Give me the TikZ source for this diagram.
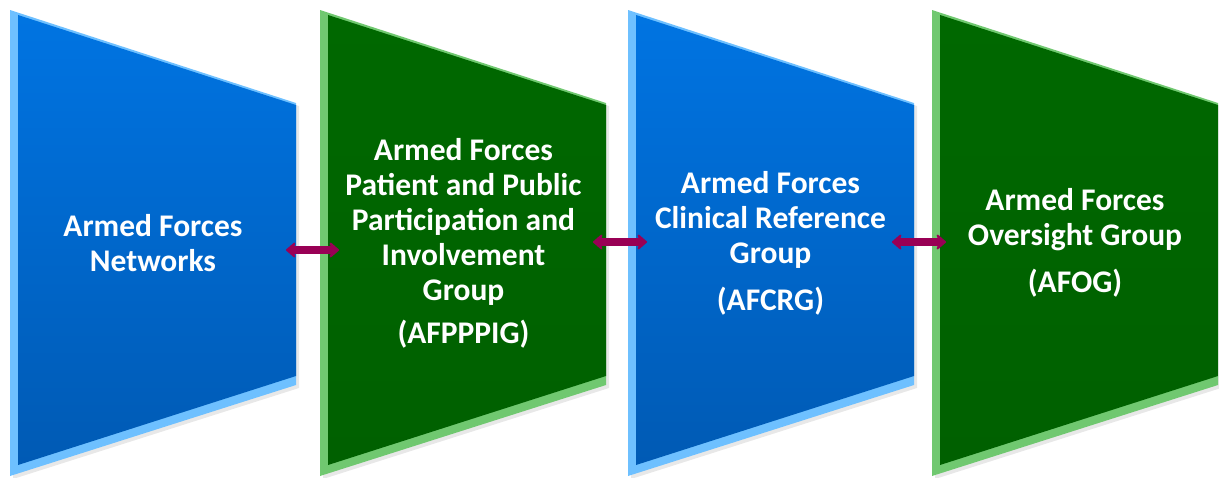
\documentclass[tikz,border=0pt]{standalone}
\usepackage{fontspec}
\setmainfont{Carlito}
\usetikzlibrary{arrows.meta}

\definecolor{blockblue}{RGB}{0,116,226}
\definecolor{blockbluedark}{RGB}{0,90,180}
\definecolor{bevelblue}{RGB}{110,192,255}
\definecolor{blockgreen}{RGB}{0,104,0}
\definecolor{blockgreendark}{RGB}{0,96,0}
\definecolor{bevelgreen}{RGB}{112,200,112}
\definecolor{linkred}{RGB}{153,0,85}

\tikzset{
  blocktext/.style={text=white, font=\bfseries\fontsize{31.5}{35}\selectfont, align=center},
  link/.style={linkred, line width=7.5pt,
    {Stealth[length=11pt,width=19pt,round]}-{Stealth[length=11pt,width=19pt,round]}},
}

\begin{document}
\begin{tikzpicture}[x=1pt,y=-1pt]

      \useasboundingbox (0,0) rectangle (1219,477);

      % the four blocks
      \foreach \lx/\base/\dark/\bevel in {10/blockblue/blockbluedark/bevelblue,
                                         320/blockgreen/blockgreendark/bevelgreen,
                                         628/blockblue/blockbluedark/bevelblue,
                                         932/blockgreen/blockgreendark/bevelgreen} {
        \begin{scope}[shift={(\lx,0)}]
          \fill[black!9] (3,13) -- (289,106) -- (289,388) -- (3,479) -- cycle;
          \fill[\bevel] (0,10) -- (286,103) -- (286,385) -- (0,476) -- cycle;
          \shade[top color=\base, bottom color=\dark]
            (8,15) -- (286,105) -- (286,376) -- (8,465) -- cycle;
        \end{scope}
      }

      \begin{scope}[every node/.style={blocktext}]
        \node (net) at (153,243)   {Armed Forces\\Networks};
        \node (ppi) at (463.5,243) {Armed Forces\\Patient and Public\\Participation and\\Involvement\\Group\\[8pt](AFPPPIG)};
        \node (crg) at (770.5,243) {Armed Forces\\Clinical Reference\\Group\\[12pt](AFCRG)};
        \node (aog) at (1075,243)  {Armed Forces\\Oversight Group\\[12pt](AFOG)};
      \end{scope}

      \coordinate (net-out) at (286,250);
      \coordinate (ppi-in)  at (339,250);
      \coordinate (ppi-out) at (593,242);
      \coordinate (crg-in)  at (647,242);
      \coordinate (crg-out) at (892,242);
      \coordinate (aog-in)  at (946,242);

      \draw[link] (net-out) -- (ppi-in);
      \draw[link] (ppi-out) -- (crg-in);
      \draw[link] (crg-out) -- (aog-in);

    \end{tikzpicture}
\end{document}
